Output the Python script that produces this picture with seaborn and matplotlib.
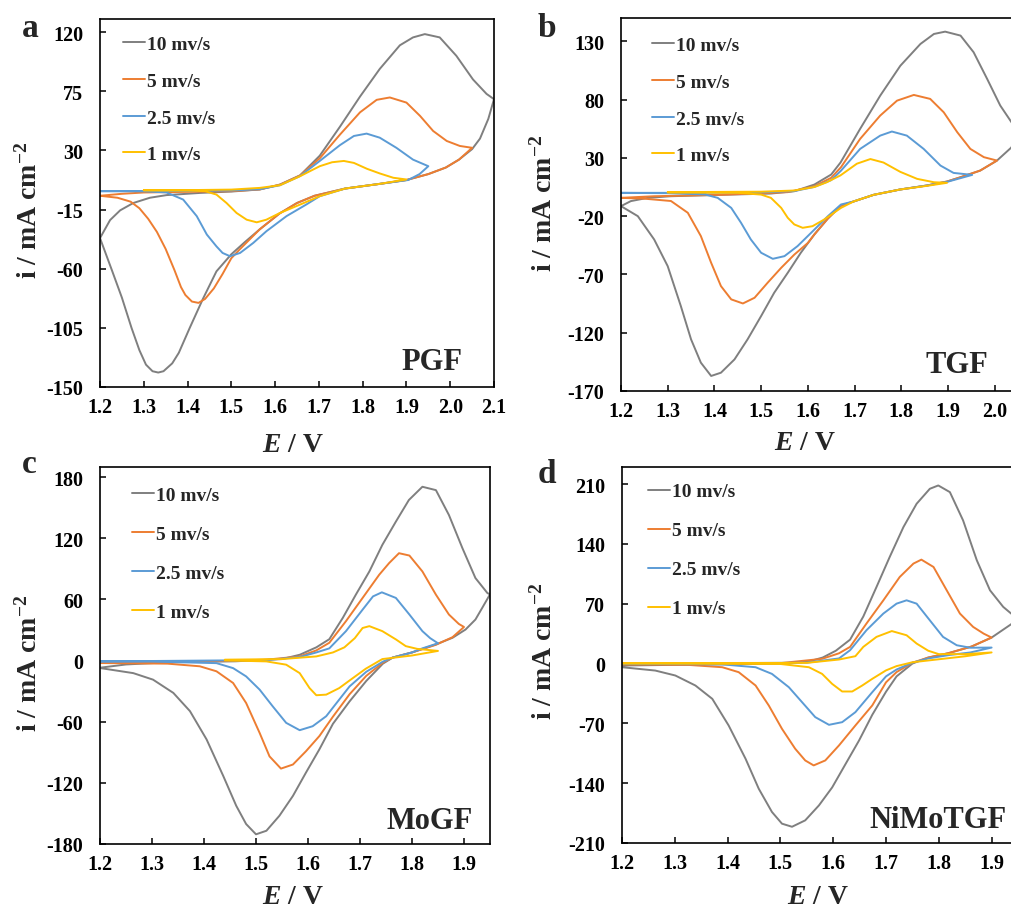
import numpy as np
import pandas as pd
import seaborn as sns
import matplotlib.pyplot as plt

# ---- CV data (E in V, i in mA cm-2), forward then reverse scan ----
# a: PGF
a_10_E = [1.2, 1.223, 1.246, 1.276, 1.314, 1.352, 1.43, 1.5, 1.565, 1.611, 1.657, 1.702, 1.748, 1.794, 1.839,
          1.885, 1.915, 1.942, 1.976, 2.014, 2.052, 2.083, 2.1,
          2.087, 2.068, 2.05, 2.02, 1.99, 1.95, 1.9, 1.84, 1.76, 1.69, 1.65, 1.61, 1.565, 1.53, 1.5, 1.466,
          1.435, 1.405, 1.38, 1.365, 1.345, 1.333, 1.32, 1.305, 1.29, 1.272, 1.25, 1.227, 1.2]
a_10_i = [-36.7, -23, -15.6, -10, -6, -4, -2.3, -1.3, 0.3, 4, 11, 26, 48, 71, 92,
          110, 116, 118.5, 116, 102, 84, 73, 69,
          54, 39, 31, 23, 17, 12, 7.5, 4.6, 1, -4.5, -10, -18, -30, -40, -49, -62,
          -83, -105, -124, -132, -138, -139, -138, -133, -122, -105, -82, -61, -36.7]
a_5_E = [1.2, 1.25, 1.3, 1.4, 1.5, 1.565, 1.611, 1.657, 1.702, 1.748, 1.794, 1.832, 1.862, 1.9, 1.931, 1.961,
         1.992, 2.022, 2.05,
         2.02, 1.99, 1.95, 1.9, 1.84, 1.76, 1.69, 1.65, 1.61, 1.565, 1.52, 1.5, 1.48, 1.46, 1.44, 1.425,
         1.41, 1.395, 1.385, 1.37, 1.35, 1.33, 1.31, 1.29, 1.27, 1.24, 1.2]
a_5_i = [-4.5, -3, -2, -1.5, -1, 0.3, 4, 11, 24, 42, 59, 68.5, 70.3, 66.4, 56.3, 44.8,
         37.2, 33.4, 32,
         23, 17, 12, 7.5, 4.6, 1, -4.5, -10, -18, -30, -45, -52, -64, -75, -83, -86,
         -85, -80, -74, -61, -45, -32, -22, -14, -9, -6, -4.5]
a_25_E = [1.2, 1.3, 1.4, 1.5, 1.565, 1.611, 1.657, 1.702, 1.748, 1.78, 1.809, 1.839, 1.877, 1.915, 1.95,
          1.93, 1.904, 1.84, 1.76, 1.702, 1.672, 1.626, 1.58, 1.55, 1.52, 1.497, 1.48, 1.466, 1.444, 1.421,
          1.39, 1.352, 1.3, 1.2]
a_25_i = [-1, -1, -0.8, -0.5, 0.5, 3.5, 10.5, 22, 34, 41, 42.8, 39.7, 32, 23, 18,
          12, 7.5, 4.6, 1, -4.8, -11, -20, -31.5, -40.4, -48, -50.5, -48, -43, -34, -20,
          -7.4, -2, -1, -1]
a_1_E = [1.3, 1.4, 1.5, 1.565, 1.611, 1.657, 1.702, 1.73, 1.757, 1.78, 1.81, 1.839, 1.87, 1.9,
         1.84, 1.76, 1.702, 1.657, 1.611, 1.58, 1.558, 1.535, 1.512, 1.489, 1.466, 1.44, 1.4, 1.3]
a_1_i = [-0.3, -0.2, 0.2, 1.5, 3.5, 10.4, 18, 21, 22, 20.5, 16, 12.5, 9.2, 7.9,
         4.6, 1, -4.8, -11.2, -17.6, -22.7, -24.7, -22.7, -17.6, -10, -3.6, -1, -0.5, -0.3]

# b: TGF
b_10_E = [1.2, 1.221, 1.257, 1.307, 1.414, 1.521, 1.571, 1.614, 1.65, 1.67, 1.712, 1.755, 1.798, 1.841, 1.87,
          1.894, 1.927, 1.955, 1.984, 2.012, 2.036, 2.05,
          2.036, 2.005, 1.969, 1.927, 1.898, 1.855, 1.798, 1.741, 1.698, 1.671, 1.643, 1.614, 1.585, 1.557,
          1.528, 1.5, 1.471, 1.443, 1.414, 1.393, 1.371, 1.35, 1.328, 1.3, 1.271, 1.236, 1.2]
b_10_i = [-11.4, -7.1, -4.3, -2.9, -1.7, -0.6, 1.4, 7.1, 15.7, 26, 54.9, 83.4, 109, 127.7, 136.3,
          138.3, 134.9, 120.6, 97.7, 74.9, 60.6, 54,
          39, 27.7, 19.1, 13.4, 9.7, 6.3, 2.9, -1.7, -7.4, -11, -22, -35.7, -51.4, -68.6,
          -85.7, -105.7, -125.7, -142.9, -154.3, -157.1, -145.7, -125.7, -97, -62.9, -40, -20, -11.4]
b_5_E = [1.2, 1.271, 1.414, 1.557, 1.614, 1.65, 1.671, 1.712, 1.755, 1.791, 1.827, 1.862, 1.891, 1.92, 1.948,
         1.977, 2.005,
         1.969, 1.927, 1.898, 1.855, 1.798, 1.741, 1.698, 1.671, 1.643, 1.614, 1.6, 1.571, 1.543, 1.514,
         1.486, 1.461, 1.436, 1.414, 1.393, 1.371, 1.343, 1.307, 1.25, 1.2]
b_5_i = [-4.3, -2.9, -1.7, 0.6, 5.7, 12.9, 22, 46.3, 66.3, 79.1, 84, 80.6, 69.1, 52, 37.7,
         30.6, 27.7,
         19.1, 13.4, 9.7, 6.3, 2.9, -1.7, -7.4, -11, -22, -35.7, -43, -53, -64.3, -77.1,
         -90, -94.9, -91.4, -80, -60, -37.1, -17.1, -7, -5, -4.3]
b_25_E = [1.2, 1.3, 1.5, 1.571, 1.614, 1.65, 1.671, 1.712, 1.755, 1.78, 1.812, 1.848, 1.884, 1.912, 1.952,
          1.898, 1.855, 1.798, 1.741, 1.698, 1.671, 1.643, 1.607, 1.578, 1.55, 1.525, 1.5, 1.478, 1.457,
          1.436, 1.407, 1.38, 1.3, 1.2]
b_25_i = [0, 0, 0.4, 1.5, 5.1, 10.9, 19, 37.7, 49.1, 52.6, 49.1, 37.7, 23.4, 17.1, 15.4,
          9.4, 6.3, 2.9, -1.7, -7.4, -10, -20, -34.3, -45.7, -54.3, -56.6, -51.4, -40, -25.7,
          -12.9, -4.3, -1.4, -0.3, 0]
b_1_E = [1.3, 1.5, 1.571, 1.614, 1.64, 1.67, 1.705, 1.734, 1.762, 1.798, 1.834, 1.87, 1.898,
         1.855, 1.798, 1.741, 1.698, 1.671, 1.635, 1.61, 1.589, 1.571, 1.557, 1.543, 1.521, 1.5, 1.45, 1.3]
b_1_i = [0.6, 1, 2, 5, 9, 15, 25, 29, 26, 18, 12, 9.1, 8.6,
         6, 2.9, -1.7, -7.4, -12.9, -22.9, -28.6, -30, -27.1, -21.4, -12.9, -4.3, -1.5, 0, 0.3]

# c: MoGF
c_10_E = [1.2, 1.25, 1.33, 1.46, 1.55, 1.584, 1.616, 1.641, 1.667, 1.692, 1.718, 1.743, 1.769, 1.794, 1.82,
          1.846, 1.871, 1.897, 1.922, 1.945, 1.95,
          1.935, 1.922, 1.903, 1.878, 1.846, 1.8, 1.763, 1.744, 1.712, 1.68, 1.648, 1.622, 1.596, 1.571,
          1.545, 1.52, 1.5, 1.481, 1.462, 1.437, 1.405, 1.373, 1.341, 1.302, 1.264, 1.2]
c_10_i = [-7, -3.8, -1.7, -0.7, 1.5, 5.7, 13, 21, 42, 64.7, 87.5, 113.6, 136.4, 157.6, 170.6,
          167.3, 142.9, 110.3, 81, 66.3, 65,
          51.7, 40.3, 30.5, 22.4, 15.9, 8, 3, -3, -20, -40, -62, -87, -110, -132.8,
          -152.3, -167, -170.5, -160.4, -142.5, -113.2, -77.4, -49.6, -31.7, -18.7, -12.3, -7.3]
c_5_E = [1.2, 1.39, 1.52, 1.584, 1.616, 1.641, 1.673, 1.705, 1.737, 1.756, 1.775, 1.795, 1.82, 1.846, 1.871,
         1.89, 1.9,
         1.878, 1.846, 1.8, 1.763, 1.744, 1.712, 1.68, 1.648, 1.622, 1.596, 1.571, 1.548, 1.526, 1.507,
         1.481, 1.456, 1.424, 1.392, 1.33, 1.2]
c_5_i = [-2.4, -1.1, 0.9, 4.1, 10, 17.5, 38.7, 61.5, 84.3, 95.7, 105.4, 103.1, 87.5, 64.7, 45.2,
         36, 33,
         23, 15.5, 8, 3, -2, -15, -33, -55, -74, -89, -102, -106, -94, -71,
         -41.6, -22, -10.5, -5.6, -3, -2.4]
c_25_E = [1.2, 1.52, 1.584, 1.616, 1.641, 1.673, 1.705, 1.725, 1.742, 1.769, 1.795, 1.82, 1.835, 1.85,
          1.82, 1.8, 1.763, 1.744, 1.712, 1.68, 1.66, 1.635, 1.609, 1.584, 1.558, 1.532, 1.507, 1.481,
          1.456, 1.424, 1.3, 1.2]
c_25_i = [-0.8, 0.5, 3.5, 8, 12, 28.9, 50, 63, 67, 61.5, 45.2, 28.9, 22, 17,
          12, 8, 3, -1, -11, -25.3, -38.3, -54.6, -64.4, -68.3, -61.1, -44.8, -28.5, -15.5,
          -7.4, -2.5, -1, -0.8]
c_1_E = [1.44, 1.55, 1.616, 1.648, 1.67, 1.69, 1.705, 1.718, 1.743, 1.769, 1.788, 1.81, 1.85,
         1.8, 1.743, 1.711, 1.68, 1.66, 1.635, 1.616, 1.603, 1.584, 1.558, 1.52, 1.44]
c_1_i = [0.9, 1.5, 4.1, 8, 13, 22, 32, 33.8, 28.9, 20.8, 14.2, 11.5, 9.5,
         5, 1.5, -8, -19.5, -27, -33.4, -34, -27, -12.3, -4, -0.8, 0.2]

# d: NiMoTGF
d_10_E = [1.2, 1.4, 1.516, 1.554, 1.58, 1.605, 1.632, 1.657, 1.682, 1.707, 1.733, 1.758, 1.783, 1.799, 1.821,
          1.846, 1.872, 1.897, 1.922, 1.937, 1.95,
          1.937, 1.918, 1.9, 1.862, 1.818, 1.78, 1.75, 1.72, 1.7, 1.674, 1.649, 1.623, 1.598, 1.573, 1.547,
          1.522, 1.503, 1.484, 1.459, 1.434, 1.402, 1.371, 1.339, 1.301, 1.263, 1.2]
d_10_i = [-2.3, -0.8, 0, 2.5, 7, 15, 28, 55, 89.6, 124.7, 159.7, 187, 204.5, 208.4, 200.6,
          167.5, 120.8, 85.7, 66.3, 58.5, 53,
          46, 38, 30.4, 19.9, 12.1, 7, 0, -15, -33, -60, -90, -118, -145, -166, -183.5,
          -191, -187.4, -173.7, -146.5, -111.4, -72.5, -41.3, -25.7, -14, -8.2, -4.3]
d_5_E = [1.2, 1.5, 1.579, 1.611, 1.632, 1.663, 1.695, 1.726, 1.752, 1.767, 1.79, 1.815, 1.84, 1.865, 1.885,
         1.9,
         1.862, 1.818, 1.78, 1.75, 1.72, 1.7, 1.674, 1.642, 1.611, 1.585, 1.563, 1.547, 1.528, 1.503,
         1.478, 1.453, 1.421, 1.39, 1.326, 1.2]
d_5_i = [-0.8, 0.5, 5.5, 12, 19.5, 46.8, 74, 101.3, 117, 121.6, 113, 85.7, 58.5, 42.9, 35,
         30.4,
         19.9, 12.1, 7, 1, -10, -22, -49, -72.5, -95.8, -113.4, -119.2, -113.4, -99.7, -76.4,
         -49.1, -25.7, -10.1, -4.3, -1.6, -0.8]
d_25_E = [1.2, 1.55, 1.611, 1.632, 1.663, 1.695, 1.72, 1.739, 1.758, 1.783, 1.808, 1.834, 1.86, 1.9,
          1.86, 1.82, 1.78, 1.75, 1.72, 1.7, 1.674, 1.642, 1.617, 1.592, 1.566, 1.541, 1.516, 1.484,
          1.453, 1.39, 1.2]
d_25_i = [-0.2, 1, 6, 15.6, 39, 58.5, 70.1, 74, 70.1, 50.6, 31.2, 21.4, 18.5, 18.7,
          13, 10, 6, 1, -7, -15, -33.5, -56.9, -68.6, -71.7, -62.7, -45.2, -27.7, -12.1,
          -4.3, -1, -0.2]
d_1_E = [1.2, 1.55, 1.611, 1.642, 1.657, 1.682, 1.711, 1.739, 1.758, 1.78, 1.8, 1.85, 1.9,
         1.85, 1.8, 1.75, 1.72, 1.7, 1.674, 1.655, 1.636, 1.617, 1.598, 1.579, 1.554, 1.5, 1.2]
d_1_i = [0.5, 0.8, 4.7, 8.6, 19.5, 31.2, 38, 33.1, 23.4, 15, 11, 11, 13,
         8.5, 5, 1.5, -3, -8, -17.9, -25.7, -32.7, -32.7, -23.8, -12.1, -4.3, -0.5, 0]

rates = ["10 mv/s", "5 mv/s", "2.5 mv/s", "1 mv/s"]
colors = ["#7f7f7f", "#ed7d31", "#5b9bd5", "#ffc000"]

panels = [
    ("a", "PGF", [(a_10_E, a_10_i), (a_5_E, a_5_i), (a_25_E, a_25_i), (a_1_E, a_1_i)]),
    ("b", "TGF", [(b_10_E, b_10_i), (b_5_E, b_5_i), (b_25_E, b_25_i), (b_1_E, b_1_i)]),
    ("c", "MoGF", [(c_10_E, c_10_i), (c_5_E, c_5_i), (c_25_E, c_25_i), (c_1_E, c_1_i)]),
    ("d", "NiMoTGF", [(d_10_E, d_10_i), (d_5_E, d_5_i), (d_25_E, d_25_i), (d_1_E, d_1_i)]),
]

# layout in pixels: left, top, right, bottom of plot area
W, H = 1011, 912
boxes = [(100, 20, 494, 388), (621, 19, 1018, 392), (100, 468, 490, 845), (622, 468, 1018, 844)]
xlims = [(1.2, 2.1), (1.2, 2.05), (1.2, 1.95), (1.2, 1.95)]
ylims = [(-150, 130), (-170, 150), (-180, 190), (-210, 230)]
yticks = [np.arange(-150, 121, 45), np.arange(-170, 131, 50), np.arange(-180, 181, 60), np.arange(-210, 211, 70)]
xticks = [np.arange(1.2, 2.11, 0.1), np.arange(1.2, 2.01, 0.1), np.arange(1.2, 1.91, 0.1), np.arange(1.2, 1.91, 0.1)]
legend_xy = [(0.058, 0.955), (0.078, 0.95), (0.082, 0.948), (0.066, 0.958)]
legend_sp = [0.98, 0.98, 1.1, 1.1]
name_xy = [(0.921, 0.049), (0.924, 0.051), (0.956, 0.042), (0.972, 0.043)]
letter_xy = [(22, 37), (538, 37), (22, 473), (538, 483)]
ylab_xy = [(29, 210), (544, 203), (29, 663), (544, 651)]
xlab_xy = [(293, 446), (805, 443), (293, 898), (818, 898)]

sns.set_style("ticks")
plt.rcParams["font.family"] = ["Liberation Serif", "DejaVu Serif"]
plt.rcParams["font.weight"] = "bold"
plt.rcParams["axes.unicode_minus"] = False
plt.rcParams["mathtext.fontset"] = "custom"
plt.rcParams["mathtext.rm"] = "Liberation Serif:bold"
plt.rcParams["mathtext.bf"] = "Liberation Serif:bold"
plt.rcParams["mathtext.it"] = "Liberation Serif:italic:bold"
plt.rcParams["mathtext.bfit"] = "Liberation Serif:italic:bold"

fig = plt.figure(figsize=(W / 100, H / 100), dpi=100)

for k, (letter, name, curves) in enumerate(panels):
    l, t, r, b = boxes[k]
    ax = fig.add_axes([l / W, 1 - b / H, (r - l) / W, (b - t) / H])
    for (E, i), lab, col in zip(curves, rates, colors):
        sns.lineplot(x=E, y=i, sort=False, estimator=None, color=col, lw=1.4, ax=ax, label=lab)
    ax.set_xlim(*xlims[k])
    ax.set_ylim(*ylims[k])
    ax.set_xticks(xticks[k])
    ax.set_xticklabels([f"{v:.1f}" for v in xticks[k]])
    ax.set_yticks(yticks[k])
    ax.tick_params(direction="in", length=4, width=1.1, labelsize=14.5, colors="black")
    ax.tick_params(axis="x", pad=7)
    ax.tick_params(axis="y", pad=12)
    for s in ax.spines.values():
        s.set_linewidth(1.2)
        s.set_color("black")
    ax.set_xlabel("")
    ax.set_ylabel("")
    ax.legend(loc="upper left", bbox_to_anchor=legend_xy[k], frameon=False, handlelength=1.15,
              handletextpad=0.1, labelspacing=legend_sp[k], borderpad=0, borderaxespad=0,
              prop={"weight": "bold", "size": 14})
    ax.text(name_xy[k][0], name_xy[k][1], name, transform=ax.transAxes, ha="right", va="baseline",
            fontsize=22, fontweight="bold")
    fig.text(letter_xy[k][0] / W, 1 - letter_xy[k][1] / H, letter, fontsize=24, fontweight="bold",
             ha="left", va="baseline")
    fig.text(ylab_xy[k][0] / W, 1 - ylab_xy[k][1] / H, r"i / mA cm$^{\mathbf{-2}}$", rotation=90,
             ha="center", va="center", fontsize=20, fontweight="bold")
    fig.text(xlab_xy[k][0] / W, 1 - xlab_xy[k][1] / H, r"$\mathbfit{E}$ / V", ha="center", va="center",
             fontsize=20, fontweight="bold")

fig.savefig("out.png", dpi=100)
